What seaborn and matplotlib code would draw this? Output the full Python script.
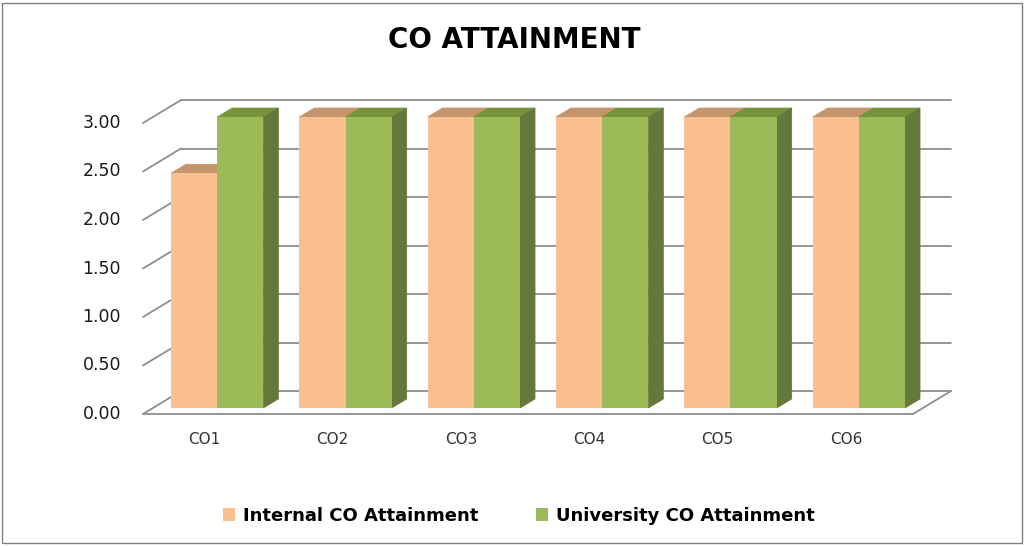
import numpy as np
import pandas as pd
import matplotlib
matplotlib.use("Agg")
import matplotlib.pyplot as plt
import matplotlib.transforms as mtransforms
from matplotlib.patches import Polygon, Rectangle
from matplotlib.lines import Line2D
import seaborn as sns

# ----------------------------------------------------
# Data
# ----------------------------------------------------
outcomes = ["CO1", "CO2", "CO3", "CO4", "CO5", "CO6"]
internal_attainment = [2.42, 3.00, 3.00, 3.00, 3.00, 3.00]
university_attainment = [3.00, 3.00, 3.00, 3.00, 3.00, 3.00]
series_names = ["Internal CO Attainment", "University CO Attainment"]
y_ticks = [0.0, 0.5, 1.0, 1.5, 2.0, 2.5, 3.0]

front_colors = ["#FAC090", "#9BBB59"]
top_colors = ["#C4946B", "#77933C"]
side_colors = ["#B07F55", "#64783A"]
grid_color = "#8E8E8E"

df = pd.DataFrame({
    "CO": outcomes * 2,
    "Series": [series_names[0]] * len(outcomes) + [series_names[1]] * len(outcomes),
    "Value": internal_attainment + university_attainment,
})

sns.set_theme(style="white")
plt.rcParams["font.family"] = ["DejaVu Sans"]

fig = plt.figure(figsize=(10.25, 5.46), dpi=100)
# axes = the plane of the bar fronts
ax = fig.add_axes([153 / 1025, (546 - 408) / 546, 770 / 1025, 291 / 546])
sns.barplot(data=df, x="CO", y="Value", hue="Series", palette=front_colors,
            width=0.72, saturation=1, legend=False, ax=ax, zorder=3,
            edgecolor="none", linewidth=0)
ax.set_xlim(-0.5, 5.5)
ax.set_ylim(0, 3)
ax.set_axis_off()


def shifted(dx_px, dy_px):
    return ax.transData + mtransforms.ScaledTranslation(dx_px / 100, dy_px / 100, fig.dpi_scale_trans)


front_tr = shifted(-10, -6)   # front edge of the floor / tick labels
back_tr = shifted(28, 17)     # back wall
x0, x1 = ax.get_xlim()

# walls and floor
for v in y_ticks:
    ax.add_line(Line2D([x0, x1], [v, v], transform=back_tr, color=grid_color, lw=1.3, zorder=1, clip_on=False))
    fp = front_tr.transform((x0, v))
    bp = back_tr.transform((x0, v))
    ax.add_line(Line2D([fp[0], bp[0]], [fp[1], bp[1]], transform=None, color=grid_color, lw=1.3,
                       zorder=1, clip_on=False))
    ax.text(x0, v, f"{v:.2f}", transform=shifted(-32, -6), ha="right", va="center",
            fontsize=12.5, color="#1a1a1a")

ax.add_line(Line2D([x0, x1], [0, 0], transform=front_tr, color=grid_color, lw=1.3, zorder=1, clip_on=False))
fr = front_tr.transform((x1, 0))
br = back_tr.transform((x1, 0))
ax.add_line(Line2D([fr[0], br[0]], [fr[1], br[1]], transform=None, color=grid_color, lw=1.3,
                   zorder=1, clip_on=False))

# 3D top and side faces derived from the seaborn bars
depth = np.array([15, 9]) / 100
off = mtransforms.ScaledTranslation(depth[0], depth[1], fig.dpi_scale_trans)
for k, cont in enumerate(ax.containers):
    for bar in cont:
        bar.set_clip_on(False)
        x, w, h = bar.get_x(), bar.get_width(), bar.get_height()
        a = ax.transData.transform([(x, h), (x + w, h), (x + w, 0)])
        b = (ax.transData + off).transform([(x, h), (x + w, h), (x + w, 0)])
        top = Polygon([a[0], a[1], b[1], b[0]], closed=True, transform=None,
                      fc=top_colors[k], ec=top_colors[k], lw=0.5, zorder=2 + 0.1 * k)
        side = Polygon([a[1], a[2], b[2], b[1]], closed=True, transform=None,
                       fc=side_colors[k], ec=side_colors[k], lw=0.5, zorder=2 + 0.1 * k)
        ax.add_artist(top)
        ax.add_artist(side)
        top.set_clip_on(False)
        side.set_clip_on(False)

# category labels
for i, lab in enumerate(outcomes):
    ax.text(i, 0, lab, transform=shifted(-13, -32), ha="center", va="center",
            fontsize=11, color="#333333")

fig.text(0.502, 0.927, "CO ATTAINMENT", ha="center", va="center",
         fontsize=20, fontweight="bold", color="black")

handles = [Rectangle((0, 0), 1, 1, fc=c, ec="none") for c in front_colors]
fig.legend(handles, series_names, loc="center", bbox_to_anchor=(0.506, 0.055), ncol=2,
           frameon=False, handlelength=0.7, handleheight=0.7, handletextpad=0.4,
           columnspacing=3.2, prop={"size": 13, "weight": "bold"}, labelcolor="black")

fig.add_artist(Rectangle((2 / 1025, 3 / 546), 1020 / 1025, 540 / 546, transform=fig.transFigure,
                         fill=False, ec="#808080", lw=1))

fig.savefig("out.png", dpi=100)
